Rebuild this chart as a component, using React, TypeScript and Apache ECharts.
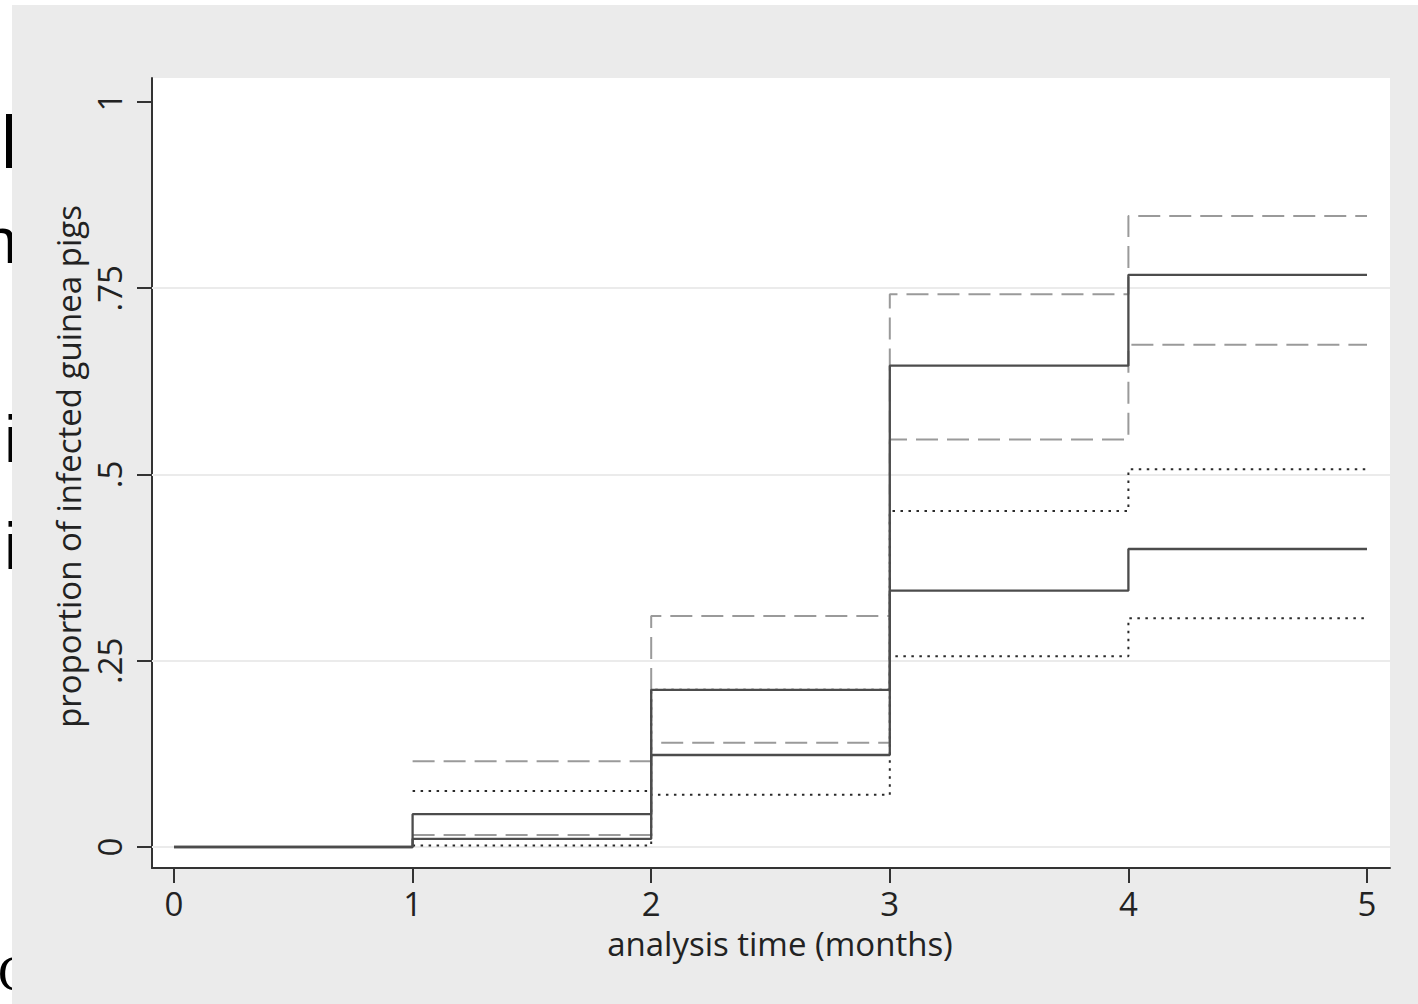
import React, { useEffect, useRef } from 'react';
import * as echarts from 'echarts';

// ---- data ----
const timePoints = [0, 1, 2, 3, 4, 5];
const estimateA = [0, 0.044, 0.211, 0.646, 0.768, 0.768];
const lowerA = [null, 0.016, 0.14, 0.547, 0.674, 0.674];
const upperA = [null, 0.115, 0.31, 0.742, 0.847, 0.847];
const estimateB = [0, 0.011, 0.1235, 0.344, 0.4, 0.4];
const lowerB = [null, 0.002, 0.07, 0.256, 0.307, 0.307];
const upperB = [null, 0.075, 0.211, 0.451, 0.507, 0.507];

const xTickValues = [0, 1, 2, 3, 4, 5];
const xTickLabels = ['0', '1', '2', '3', '4', '5'];
const yTickValues = [0, 0.25, 0.5, 0.75, 1];
const yTickLabels = ['0', '.25', '.5', '.75', '1'];
const gridLineValues = [0, 0.25, 0.5, 0.75];
const xAxisTitle = 'analysis time (months)';
const yAxisTitle = 'proportion of infected guinea pigs';

// cropped text fragments at the left edge of the picture
const fragmentTexts = ['l', 'n', 'i', 'i', 'C'];

const pairs = (vals: (number | null)[]) =>
  timePoints
    .map((t, i) => [t, vals[i]])
    .filter((p) => p[1] !== null && p[1] !== undefined);

const FONT = '"Open Sans", "Noto Sans", sans-serif';

export default function App() {
  const ref = useRef<HTMLDivElement>(null);

  useEffect(() => {
    document.body.style.margin = '0';
    if (!ref.current) return;
    const chart = echarts.init(ref.current, undefined, { renderer: 'svg' });

    const fragStyles = [
      { x: 1, y: 142, font: '74px "Liberation Sans", Arial, sans-serif' },
      { x: -18, y: 241, font: '64px "Liberation Sans", Arial, sans-serif' },
      { x: 4, y: 438, font: '67px "Liberation Sans", Arial, sans-serif' },
      { x: 4, y: 545, font: '67px "Liberation Sans", Arial, sans-serif' },
      { x: -2, y: 973, font: '50px "Liberation Serif", "Times New Roman", serif' },
    ];

    const labelStyle = { fontFamily: FONT, fontSize: 33, color: '#222', lineHeight: 26 };

    const solid = { color: '#4c4c4c', width: 2.3, type: 'solid' as const };
    const dashed = { color: '#9a9a9a', width: 2, type: [22, 9] as any };
    const dotted = { color: '#2a2a2a', width: 2, type: [2.5, 5.5] as any };

    const mk = (name: string, vals: (number | null)[], ls: any, z: number) => ({
      name,
      type: 'line',
      step: 'end',
      data: pairs(vals),
      symbol: 'none',
      showSymbol: false,
      silent: true,
      lineStyle: ls,
      z,
    });

    chart.setOption({
      animation: false,
      backgroundColor: 'transparent',
      graphic: [
        ...fragmentTexts.map((t, i) => ({
          type: 'text',
          x: fragStyles[i].x,
          y: fragStyles[i].y,
          z: -100,
          silent: true,
          style: {
            text: t,
            font: fragStyles[i].font,
            fill: '#000',
            textAlign: 'left',
            textVerticalAlign: 'middle',
            align: 'left',
            verticalAlign: 'middle',
          },
        })),
        {
          type: 'rect',
          z: -100,
          silent: true,
          shape: { x: 12, y: 5, width: 1406, height: 999 },
          style: { fill: '#ebebeb' },
        },
        {
          type: 'rect',
          z: -100,
          silent: true,
          shape: { x: 152, y: 78, width: 1238, height: 790 },
          style: { fill: '#ffffff' },
        },
      ],
      grid: { left: 152, right: 28, top: 78, bottom: 136, containLabel: false, show: false },
      xAxis: {
        type: 'value',
        min: -0.0922,
        max: 5.0964,
        axisLine: { show: true, onZero: false, lineStyle: { color: '#333', width: 2 } },
        axisTick: {
          show: true,
          customValues: xTickValues,
          length: 15,
          inside: false,
          lineStyle: { color: '#333', width: 2 },
        },
        axisLabel: {
          customValues: xTickValues,
          formatter: (v: number) => xTickLabels[xTickValues.indexOf(v)] ?? '',
          margin: 35,
          verticalAlign: 'middle',
          ...labelStyle,
        },
        splitLine: { show: false },
        name: xAxisTitle,
        nameLocation: 'middle',
        nameGap: 75,
        nameTextStyle: { ...labelStyle, verticalAlign: 'middle', padding: [0, 0, 0, 18] },
      },
      yAxis: {
        type: 'value',
        min: -0.0282,
        max: 1.0322,
        axisLine: { show: true, onZero: false, lineStyle: { color: '#333', width: 2 } },
        axisTick: {
          show: true,
          customValues: yTickValues,
          length: 15,
          inside: false,
          lineStyle: { color: '#333', width: 2 },
        },
        axisLabel: {
          customValues: yTickValues,
          formatter: (v: number) => yTickLabels[yTickValues.indexOf(v)] ?? '',
          rotate: 90,
          margin: 43,
          align: 'center',
          verticalAlign: 'middle',
          ...labelStyle,
        },
        splitLine: { show: false },
        name: yAxisTitle,
        nameLocation: 'middle',
        nameGap: 81,
        nameRotate: 90,
        nameTextStyle: { ...labelStyle, verticalAlign: 'middle', align: 'center', padding: [0, 0, 0, 13] },
      },
      series: [
        {
          name: 'grid',
          type: 'line',
          data: [],
          z: 1,
          silent: true,
          markLine: {
            silent: true,
            z: 1,
            symbol: ['none', 'none'],
            label: { show: false },
            lineStyle: { color: '#ebebeb', width: 2, type: 'solid' },
            data: gridLineValues.map((v) => ({ yAxis: v })),
          },
        },
        mk('upper CI A', upperA, dashed, 2),
        mk('lower CI A', lowerA, dashed, 2),
        mk('upper CI B', upperB, dotted, 3),
        mk('lower CI B', lowerB, dotted, 3),
        mk('estimate B', estimateB, solid, 4),
        mk('estimate A', estimateA, solid, 4),
      ],
    });

    return () => chart.dispose();
  }, []);

  return <div ref={ref} style={{ width: 1418, height: 1004, background: '#fff' }} />;
}
